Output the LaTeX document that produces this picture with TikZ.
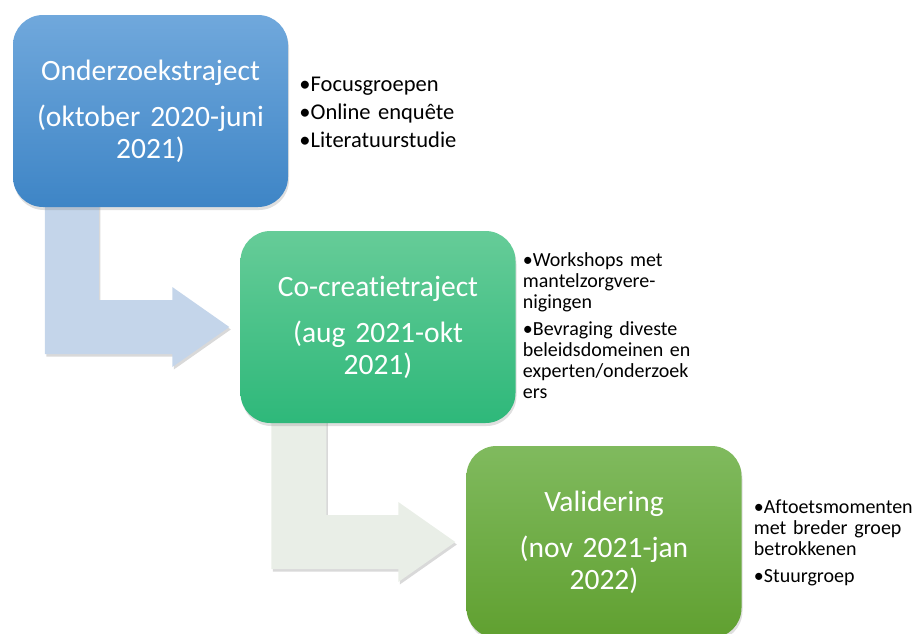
\documentclass[tikz,border=0pt]{standalone}
\usepackage{fontspec}
\setmainfont{Carlito}[Ligatures=NoCommon]
\usepackage{tikz}
\usetikzlibrary{calc,shadows,backgrounds}
\definecolor{phblueA}{RGB}{112,168,220}
\definecolor{phblueB}{RGB}{62,133,198}
\definecolor{phgreenA}{RGB}{102,204,152}
\definecolor{phgreenB}{RGB}{46,184,122}
\definecolor{phlimeA}{RGB}{128,186,94}
\definecolor{phlimeB}{RGB}{96,160,48}
\definecolor{arrowblue}{RGB}{196,213,234}
\definecolor{arrowgrey}{RGB}{233,238,231}
\tikzstyle{phase} = [rectangle, rounded corners=30pt, minimum width=275pt, minimum height=192pt, text width=255pt, align=center, text=white, font=\fontsize{29.5}{32}\selectfont, drop shadow={shadow xshift=1pt, shadow yshift=-3pt, opacity=0.25}]
\tikzstyle{bentarrow} = [draw=none, drop shadow={shadow xshift=1.5pt, shadow yshift=-2.5pt, opacity=0.3}]
\tikzstyle{notes} = [anchor=north west, inner sep=0pt, align=left, text width=185pt, font=\fontsize{20}{21}\selectfont]
\newcommand{\bitem}[1]{\par\hangindent=10pt\hangafter=1\noindent\makebox[10pt][l]{\textbullet}#1\par}

\begin{document}
\begin{tikzpicture}[x=1pt, y=-1pt]
\useasboundingbox (0,0) rectangle (913,633);

% Phases
\node[phase, top color=phblueA, bottom color=phblueB] (onderzoek) at (150.5,111) {Onderzoekstraject\\[14pt](oktober 2020-juni\\2021)};
\node[phase, top color=phgreenA, bottom color=phgreenB] (cocreatie) at (378,327) {Co-creatietraject\\[14pt](aug 2021-okt\\2021)};
\node[phase, top color=phlimeA, bottom color=phlimeB] (validering) at (604,542) {Validering\\[14pt](nov 2021-jan\\2022)};

% Bent arrows, behind the phases
\begin{scope}[on background layer]
\draw[bentarrow, fill=arrowblue] let \p1=(onderzoek.south west), \p2=(cocreatie.west) in
  (\x1+32pt,\y1+10pt) -- (\x1+86pt,\y1+10pt) -- (\x1+86pt,\y2+27pt) -- (\x2-68pt,\y2+27pt)
  -- (\x2-68pt,\y2+40pt) -- (\x2-11pt,\y2) -- (\x2-68pt,\y2-40pt) -- (\x2-68pt,\y2-27pt)
  -- (\x1+32pt,\y2-27pt) -- cycle;
\draw[bentarrow, fill=arrowgrey] let \p1=(cocreatie.south west), \p2=(validering.west) in
  (\x1+31pt,\y1+10pt) -- (\x1+86pt,\y1+10pt) -- (\x1+86pt,\y2+27pt) -- (\x2-68pt,\y2+27pt)
  -- (\x2-68pt,\y2+40pt) -- (\x2-11pt,\y2) -- (\x2-68pt,\y2-40pt) -- (\x2-68pt,\y2-27pt)
  -- (\x1+31pt,\y2-27pt) -- cycle;
\end{scope}

% Activities
\node[notes, font=\fontsize{22.5}{28}\selectfont] (onderzoeklist) at ($(onderzoek.north east)+(11,62)$)
  {\textbullet Focusgroepen\\\textbullet Online enquête\\\textbullet Literatuurstudie};
\node[notes] (cocreatielist) at ($(cocreatie.north east)+(7,14)$)
  {\bitem{Workshops met\\mantelzorgvere-\\nigingen}\vspace{6pt}\bitem{Bevraging diveste\\beleidsdomeinen en\\experten/onderzoek\\ers}};
\node[notes] (valideringlist) at ($(validering.north east)+(12,46)$)
  {\bitem{Aftoetsmomenten\\met breder groep\\betrokkenen}\vspace{6pt}\bitem{Stuurgroep}};
\end{tikzpicture}
\end{document}
